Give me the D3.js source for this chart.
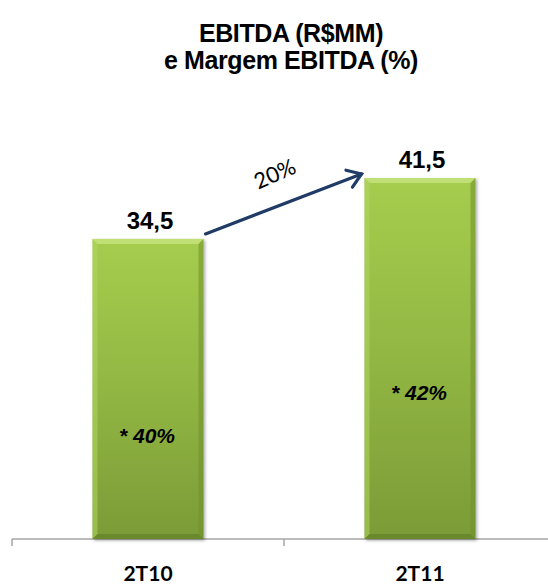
<!DOCTYPE html>
<html>
<head>
    <meta charset="utf-8">
    <title>EBITDA</title>
    <script src="https://d3js.org/d3.v7.min.js"></script>
    <style>
        body { margin: 0; background: #fff; }
        svg { display: block; }
    </style>
</head>
<body>
    <svg id="chart" width="548" height="586"></svg>
    <script>
        // data
        const periods = ["2T10", "2T11"];
        const ebitda = [34.5, 41.5];
        const margins = [40, 42];
        const growthLabel = "20%";
        const titleLines = ["EBITDA  (R$MM)", "e Margem EBITDA (%)"];

        const width = 548, height = 586;
        const baseY = 539;
        const svg = d3.select("#chart");

        // where the margin tags sit inside the bars (layout only)
        const marginLabelY = [436, 393];

        let x = d3.scaleBand()
                    .domain(periods)
                    .range([12, 556])
                    .padding(0);

        let y = d3.scaleLinear()
                    .domain([0, 41.5])
                    .range([baseY, 178]);

        const barW = x.bandwidth() * 0.408;
        const barX = d => x(d) + (x.bandwidth() - barW) / 2;
        const fmt = v => d3.format(".1f")(v).replace(".", ",");

        let defs = svg.append("defs");
        let grad = defs.append("linearGradient")
                        .attr("id", "barFill")
                        .attr("x1", 0).attr("y1", 0).attr("x2", 0).attr("y2", 1);
        grad.append("stop").attr("offset", "0%").attr("stop-color", "#a6cd4e");
        grad.append("stop").attr("offset", "45%").attr("stop-color", "#94b944");
        grad.append("stop").attr("offset", "100%").attr("stop-color", "#7b9b37");

        let shadow = defs.append("filter").attr("id", "shade")
                        .attr("x", "-10%").attr("y", "-10%").attr("width", "130%").attr("height", "130%");
        shadow.append("feDropShadow")
            .attr("dx", 1.5).attr("dy", 1.5).attr("stdDeviation", 1.5)
            .attr("flood-color", "#000").attr("flood-opacity", 0.35);

        // title
        svg.append("g").selectAll("text")
            .data(titleLines)
            .join("text")
            .attr("x", 291)
            .attr("y", (d, i) => 42 + i * 27)
            .attr("text-anchor", "middle")
            .attr("font-family", "'Liberation Sans', Arial, sans-serif")
            .attr("font-weight", "bold")
            .attr("font-size", 25)
            .attr("letter-spacing", -0.4)
            .attr("fill", "#000")
            .text(d => d);

        // axis
        let axis = svg.append("g").attr("stroke", "#a6a6a6").attr("stroke-width", 1.5);
        axis.append("line")
            .attr("x1", x.range()[0]).attr("x2", x.range()[1])
            .attr("y1", baseY).attr("y2", baseY);
        axis.selectAll("line.tick")
            .data(periods.concat([null]))
            .join("line")
            .attr("class", "tick")
            .attr("x1", (d, i) => x.range()[0] + i * x.step())
            .attr("x2", (d, i) => x.range()[0] + i * x.step())
            .attr("y1", baseY).attr("y2", baseY + 7);

        // bars
        let bars = svg.append("g").selectAll("g")
                        .data(periods)
                        .join("g");

        bars.append("rect")
            .attr("x", d => barX(d))
            .attr("y", (d, i) => y(ebitda[i]))
            .attr("width", barW)
            .attr("height", (d, i) => baseY - y(ebitda[i]))
            .attr("fill", "url(#barFill)")
            .attr("filter", "url(#shade)");

        const bev = 5;
        // top bevel
        bars.append("polygon")
            .attr("points", (d, i) => {
                let x0 = barX(d), x1 = x0 + barW, t = y(ebitda[i]);
                return [[x0, t], [x1, t], [x1 - bev, t + bev], [x0 + bev, t + bev]].join(" ");
            })
            .attr("fill", "#c4e27d").attr("opacity", 0.85);
        // left bevel
        bars.append("polygon")
            .attr("points", (d, i) => {
                let x0 = barX(d), t = y(ebitda[i]);
                return [[x0, t], [x0 + bev, t + bev], [x0 + bev, baseY - bev], [x0, baseY]].join(" ");
            })
            .attr("fill", "#b3d663").attr("opacity", 0.55);
        // right bevel
        bars.append("polygon")
            .attr("points", (d, i) => {
                let x1 = barX(d) + barW, t = y(ebitda[i]);
                return [[x1, t], [x1 - bev, t + bev], [x1 - bev, baseY - bev], [x1, baseY]].join(" ");
            })
            .attr("fill", "#6f8f2c").attr("opacity", 0.55);
        // bottom bevel
        bars.append("polygon")
            .attr("points", d => {
                let x0 = barX(d), x1 = x0 + barW;
                return [[x0, baseY], [x0 + bev, baseY - bev], [x1 - bev, baseY - bev], [x1, baseY]].join(" ");
            })
            .attr("fill", "#5f7d24").attr("opacity", 0.6);

        // value labels
        bars.append("text")
            .attr("x", d => x(d) + x.bandwidth() / 2 + 2)
            .attr("y", (d, i) => y(ebitda[i]) - 10)
            .attr("text-anchor", "middle")
            .attr("font-family", "'Liberation Sans', Arial, sans-serif")
            .attr("font-weight", "bold")
            .attr("font-size", 24)
            .text((d, i) => fmt(ebitda[i]));

        // margin labels
        bars.append("text")
            .attr("x", d => x(d) + x.bandwidth() / 2 - 1)
            .attr("y", (d, i) => marginLabelY[i] + 7)
            .attr("text-anchor", "middle")
            .attr("font-family", "'Liberation Sans', Arial, sans-serif")
            .attr("font-weight", "bold")
            .attr("font-style", "italic")
            .attr("font-size", 21)
            .text((d, i) => "* " + margins[i] + "%");

        // category labels
        bars.append("text")
            .attr("x", d => x(d) + x.bandwidth() / 2)
            .attr("y", 581)
            .attr("text-anchor", "middle")
            .attr("font-family", "Lato, 'Open Sans', sans-serif")
            .attr("font-weight", "bold")
            .attr("font-size", 21)
            .text(d => d);

        // growth arrow
        const ax0 = barX(periods[0]) + barW + 2, ay0 = y(ebitda[0]) - 5;
        const ax1 = barX(periods[1]) - 3, ay1 = y(ebitda[1]) - 4;
        const ang = Math.atan2(ay1 - ay0, ax1 - ax0);
        const head = 16, spread = Math.PI / 5.2;
        let arrow = svg.append("g")
                        .attr("stroke", "#1f3b66")
                        .attr("stroke-width", 3.2)
                        .attr("stroke-linecap", "round")
                        .attr("fill", "none");
        arrow.append("line")
            .attr("x1", ax0).attr("y1", ay0).attr("x2", ax1).attr("y2", ay1);
        arrow.append("path")
            .attr("d", d3.line()([
                [ax1 - head * Math.cos(ang - spread), ay1 - head * Math.sin(ang - spread)],
                [ax1, ay1],
                [ax1 - head * Math.cos(ang + spread), ay1 - head * Math.sin(ang + spread)]
            ]))
            .attr("stroke-linejoin", "miter");

        svg.append("text")
            .attr("transform", "translate(278,181) rotate(-24)")
            .attr("text-anchor", "middle")
            .attr("font-family", "Lato, 'Open Sans', sans-serif")
            .attr("font-size", 22)
            .attr("fill", "#000")
            .text(growthLabel);
    </script>
</body>
</html>
